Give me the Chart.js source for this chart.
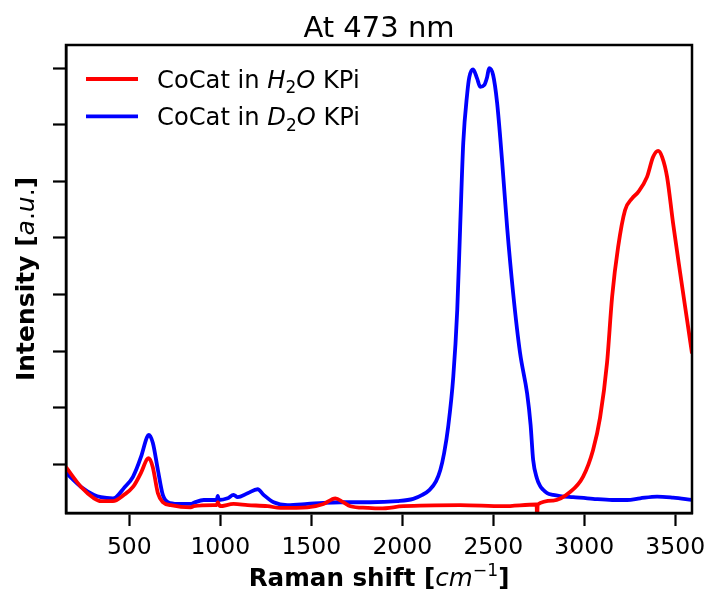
<!DOCTYPE html>
<html>
<head>
<meta charset="utf-8">
<script src="https://cdn.jsdelivr.net/npm/chart.js@4.4.1/dist/chart.umd.min.js"></script>
<style>
  html, body { margin: 0; padding: 0; background: #fff; }
</style>
</head>
<body>
<canvas id="chart" width="704" height="590"></canvas>
<script>
const FONT = '"DejaVu Sans", sans-serif';

// Raman shift [cm-1] / intensity [a.u.]
const shiftH2O = [152, 235, 306, 344, 410, 470, 520, 564, 597, 607, 629, 657, 684, 728, 838, 854, 964, 980, 986, 997, 1073, 1150, 1260, 1331, 1479, 1567, 1632, 1676, 1715, 1808, 1879, 2005, 2318, 2554, 2738, 2741, 2744, 2829, 2922, 2993, 3048, 3087, 3125, 3153, 3186, 3224, 3263, 3296, 3345, 3378, 3406, 3428, 3455, 3488, 3527, 3565, 3592];
const intensityH2O = [0.95, 0.60, 0.40, 0.35, 0.35, 0.46, 0.60, 0.85, 1.09, 1.11, 0.95, 0.49, 0.33, 0.28, 0.24, 0.26, 0.28, 0.28, 0.33, 0.26, 0.30, 0.28, 0.26, 0.23, 0.24, 0.30, 0.40, 0.33, 0.26, 0.23, 0.22, 0.26, 0.28, 0.26, 0.29, 0.0, 0.29, 0.36, 0.51, 0.78, 1.25, 1.83, 2.79, 3.96, 4.84, 5.49, 5.70, 5.81, 6.08, 6.43, 6.54, 6.43, 6.08, 5.26, 4.38, 3.55, 2.96];

const shiftD2O = [152, 235, 306, 344, 410, 427, 470, 520, 564, 597, 607, 629, 657, 684, 712, 766, 838, 854, 909, 964, 980, 986, 992, 1040, 1073, 1095, 1150, 1205, 1238, 1293, 1369, 1479, 1567, 1660, 1824, 1972, 2060, 2110, 2150, 2185, 2209, 2230, 2252, 2280, 2302, 2318, 2335, 2357, 2368, 2389, 2411, 2428, 2450, 2466, 2477, 2499, 2521, 2548, 2576, 2609, 2647, 2686, 2705, 2719, 2740, 2757, 2774, 2796, 2829, 2867, 2939, 3048, 3153, 3235, 3307, 3400, 3488, 3592];
const intensityD2O = [0.85, 0.60, 0.46, 0.42, 0.40, 0.42, 0.58, 0.78, 1.13, 1.48, 1.52, 1.38, 0.90, 0.46, 0.33, 0.30, 0.30, 0.32, 0.37, 0.37, 0.37, 0.44, 0.37, 0.40, 0.46, 0.42, 0.49, 0.56, 0.46, 0.33, 0.28, 0.30, 0.32, 0.33, 0.33, 0.35, 0.39, 0.46, 0.55, 0.70, 0.90, 1.20, 1.66, 2.54, 3.73, 5.19, 6.68, 7.56, 7.84, 7.98, 7.82, 7.67, 7.70, 7.84, 8.00, 7.88, 7.39, 6.38, 5.19, 4.03, 2.97, 2.25, 1.70, 1.08, 0.75, 0.62, 0.55, 0.49, 0.46, 0.44, 0.42, 0.39, 0.37, 0.37, 0.40, 0.43, 0.41, 0.37];

const xTicks = [500, 1000, 1500, 2000, 2500, 3000, 3500];
const yTicks = [1, 2, 3, 4, 5, 6, 7, 8];

// text pieces, matplotlib mathtext style (italic / sub / sup)
const titleText = [{ t: 'At 473 nm' }];
const legendH2O = [{ t: 'CoCat in ' }, { t: 'H', i: true }, { t: '2', sub: true }, { t: 'O', i: true }, { t: ' KPi' }];
const legendD2O = [{ t: 'CoCat in ' }, { t: 'D', i: true }, { t: '2', sub: true }, { t: 'O', i: true }, { t: ' KPi' }];
const xLabel = [{ t: 'Raman shift [', b: true }, { t: 'cm', i: true }, { t: '\u22121', sup: true }, { t: ']', b: true }];
const yLabel = [{ t: 'Intensity [', b: true }, { t: 'a', i: true }, { t: '.' }, { t: 'u', i: true }, { t: '.' }, { t: ']', b: true }];

function toPoints(xs, ys) {
  return xs.map((x, i) => ({ x: x, y: ys[i] }));
}

function partFont(p, size) {
  let s = p.sub || p.sup ? size * 0.7 : size;
  return (p.i ? 'italic ' : '') + (p.b ? 'bold ' : '') + s + 'px ' + FONT;
}

// draws a row of styled pieces, x/y is the baseline anchor
function drawParts(ctx, parts, x, y, size, rot, align) {
  let total = 0;
  parts.forEach((p) => {
    ctx.font = partFont(p, size);
    p.w = ctx.measureText(p.t).width;
    total += p.w;
  });
  ctx.save();
  ctx.translate(x, y);
  ctx.rotate(rot);
  ctx.fillStyle = '#000';
  ctx.textBaseline = 'alphabetic';
  ctx.textAlign = 'left';
  let cx = align === 'center' ? -total / 2 : 0;
  parts.forEach((p) => {
    ctx.font = partFont(p, size);
    let dy = p.sub ? size * 0.22 : p.sup ? -size * 0.42 : 0;
    ctx.fillText(p.t, cx, dy);
    cx += p.w;
  });
  ctx.restore();
}

const framePlugin = {
  id: 'frame',
  afterDatasetsDraw(chart) {
    const { ctx, chartArea: a } = chart;
    ctx.save();
    ctx.strokeStyle = '#000';
    ctx.lineWidth = 2.5;
    ctx.strokeRect(a.left, a.top, a.right - a.left, a.bottom - a.top);
    ctx.restore();
  },
  afterDraw(chart) {
    const { ctx, chartArea: a } = chart;
    const rows = [legendH2O, legendD2O];
    chart.data.datasets.forEach((ds, i) => {
      const y = a.top + 34 + i * 37.4;
      ctx.save();
      ctx.strokeStyle = ds.borderColor;
      ctx.lineWidth = 3.8;
      ctx.beginPath();
      ctx.moveTo(a.left + 20, y);
      ctx.lineTo(a.left + 72, y);
      ctx.stroke();
      ctx.restore();
      drawParts(ctx, rows[i], a.left + 91, y + 8.8, 24.2, 0, 'left');
    });
    const midX = (a.left + a.right) / 2;
    drawParts(ctx, titleText, midX, 36.5, 29, 0, 'center');
    drawParts(ctx, xLabel, midX, 586, 24.6, 0, 'center');
    drawParts(ctx, yLabel, 34, (a.top + a.bottom) / 2, 25, -Math.PI / 2, 'center');
  }
};

const axisGrid = { drawOnChartArea: false, drawTicks: true, tickLength: 13, tickWidth: 2.2, tickColor: '#000' };
const axisBorder = { display: true, color: '#000', width: 2.5 };

const ctx = document.getElementById('chart');
const myChart = new Chart(ctx, {
  type: 'line',
  data: {
    datasets: [
      {
        label: 'CoCat in H2O KPi',
        data: toPoints(shiftH2O, intensityH2O),
        borderColor: '#ff0000',
        borderWidth: 3.8,
        pointRadius: 0,
        cubicInterpolationMode: 'monotone',
        fill: false
      },
      {
        label: 'CoCat in D2O KPi',
        data: toPoints(shiftD2O, intensityD2O),
        borderColor: '#0000ff',
        borderWidth: 3.8,
        pointRadius: 0,
        cubicInterpolationMode: 'monotone',
        fill: false
      }
    ]
  },
  options: {
    responsive: false,
    animation: false,
    layout: { padding: { top: 45, right: 12, bottom: 0, left: 0 }, autoPadding: false },
    plugins: {
      legend: { display: false },
      tooltip: { enabled: false },
      title: { display: false }
    },
    scales: {
      x: {
        type: 'linear',
        min: 152,
        max: 3592,
        afterBuildTicks: (s) => { s.ticks = xTicks.map((v) => ({ value: v })); },
        afterFit: (s) => { s.height = 77; s.paddingLeft = 0; s.paddingRight = 0; },
        ticks: {
          color: '#000',
          font: { family: FONT, size: 23.5 },
          padding: 8,
          maxRotation: 0,
          autoSkip: false,
          callback: (v) => String(v)
        },
        grid: axisGrid,
        border: axisBorder
      },
      y: {
        type: 'linear',
        min: 0.14,
        max: 8.41,
        afterBuildTicks: (s) => { s.ticks = yTicks.map((v) => ({ value: v })); },
        afterFit: (s) => { s.width = 66; s.paddingTop = 0; s.paddingBottom = 0; },
        ticks: { display: false },
        grid: axisGrid,
        border: axisBorder
      }
    }
  },
  plugins: [framePlugin]
});
</script>
</body>
</html>
